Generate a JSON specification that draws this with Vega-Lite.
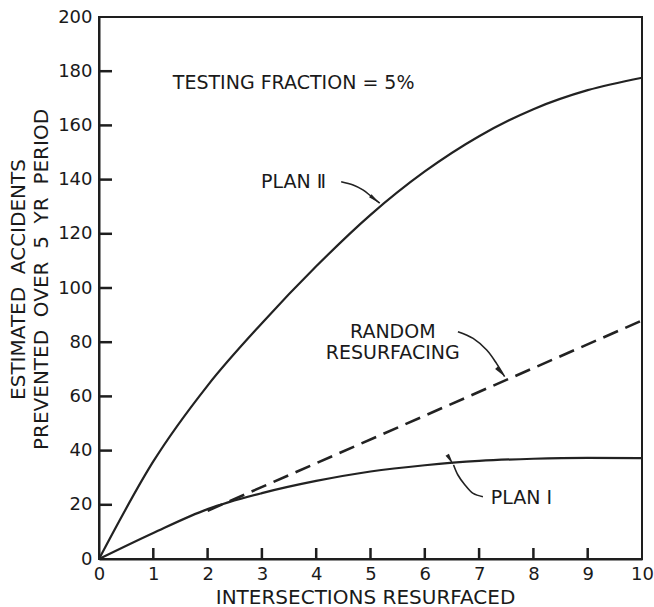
{
  "$schema": "https://vega.github.io/schema/vega-lite/v6.json",
  "width": 543,
  "height": 542,
  "autosize": "none",
  "padding": {"left": 99, "top": 17, "right": 12, "bottom": 48},
  "background": "white",
  "config": {
    "view": {"stroke": "#1e1e1e", "strokeWidth": 2},
    "font": "DejaVu Sans",
    "axis": {
      "grid": false,
      "domainColor": "#1e1e1e",
      "domainWidth": 2,
      "ticks": false,
      "labelFont": "DejaVu Sans",
      "labelFontSize": 18,
      "labelColor": "#1a1a1a",
      "labelFlush": false,
      "labelOverlap": false,
      "titleFont": "DejaVu Sans",
      "titleFontSize": 20,
      "titleFontWeight": "normal",
      "titleColor": "#1a1a1a"
    }
  },
  "datasets": {
    "curves": [
      {"series": "PLAN II", "x": 0, "y": 0},
      {"series": "PLAN II", "x": 1, "y": 36},
      {"series": "PLAN II", "x": 2, "y": 64},
      {"series": "PLAN II", "x": 3, "y": 87},
      {"series": "PLAN II", "x": 4, "y": 108},
      {"series": "PLAN II", "x": 5, "y": 127},
      {"series": "PLAN II", "x": 6, "y": 143},
      {"series": "PLAN II", "x": 7, "y": 156},
      {"series": "PLAN II", "x": 8, "y": 166},
      {"series": "PLAN II", "x": 9, "y": 173},
      {"series": "PLAN II", "x": 10, "y": 177.6},
      {"series": "PLAN I", "x": 0, "y": 0},
      {"series": "PLAN I", "x": 1, "y": 9.6},
      {"series": "PLAN I", "x": 2, "y": 18.4},
      {"series": "PLAN I", "x": 3, "y": 24.3},
      {"series": "PLAN I", "x": 4, "y": 28.8},
      {"series": "PLAN I", "x": 5, "y": 32.3},
      {"series": "PLAN I", "x": 6, "y": 34.6},
      {"series": "PLAN I", "x": 7, "y": 36.2},
      {"series": "PLAN I", "x": 8, "y": 37},
      {"series": "PLAN I", "x": 9, "y": 37.3},
      {"series": "PLAN I", "x": 10, "y": 37.2},
      {"series": "RANDOM", "x": 2, "y": 17.8},
      {"series": "RANDOM", "x": 10, "y": 88}
    ],
    "arrows": [
      {"arrow": "PLAN II", "i": 0, "x": 4.46, "y": 139.2},
      {"arrow": "PLAN II", "i": 1, "x": 4.68, "y": 138.0},
      {"arrow": "PLAN II", "i": 2, "x": 4.86, "y": 136.2},
      {"arrow": "PLAN II", "i": 3, "x": 5.02, "y": 133.7},
      {"arrow": "PLAN II", "i": 4, "x": 5.17, "y": 131.3},
      {"arrow": "RANDOM", "i": 0, "x": 6.61, "y": 83.9},
      {"arrow": "RANDOM", "i": 1, "x": 6.89, "y": 81.4},
      {"arrow": "RANDOM", "i": 2, "x": 7.14, "y": 77.1},
      {"arrow": "RANDOM", "i": 3, "x": 7.32, "y": 72.2},
      {"arrow": "RANDOM", "i": 4, "x": 7.47, "y": 67.3},
      {"arrow": "PLAN I", "i": 0, "x": 7.07, "y": 23.0},
      {"arrow": "PLAN I", "i": 1, "x": 6.89, "y": 24.2},
      {"arrow": "PLAN I", "i": 2, "x": 6.74, "y": 27.3},
      {"arrow": "PLAN I", "i": 3, "x": 6.61, "y": 31.0},
      {"arrow": "PLAN I", "i": 4, "x": 6.53, "y": 34.7}
    ],
    "labels": [
      {"label": "TESTING FRACTION = 5%", "x": 3.585, "y": 175.6},
      {"label": "PLAN Ⅱ", "x": 3.585, "y": 139.2},
      {"label": "RANDOM\nRESURFACING", "x": 5.41, "y": 83.7},
      {"label": "PLAN Ⅰ", "x": 7.78, "y": 22.5}
    ],
    "xticks": [{"v": 1}, {"v": 2}, {"v": 3}, {"v": 4}, {"v": 5}, {"v": 6}, {"v": 7}, {"v": 8}, {"v": 9}],
    "yticks": [{"v": 20}, {"v": 40}, {"v": 60}, {"v": 80}, {"v": 100}, {"v": 120}, {"v": 140}, {"v": 160}, {"v": 180}]
  },
  "layer": [
    {
      "data": {"name": "curves"},
      "transform": [{"filter": "datum.series !== 'RANDOM'"}],
      "mark": {"type": "line", "interpolate": "monotone", "color": "#222", "strokeWidth": 2.2},
      "encoding": {
        "x": {
          "field": "x", "type": "quantitative",
          "scale": {"domain": [0, 10], "nice": false, "zero": false},
          "axis": {
            "values": [0, 1, 2, 3, 4, 5, 6, 7, 8, 9, 10],
            "labelPadding": 6,
            "title": "INTERSECTIONS RESURFACED",
            "titleX": 266,
            "titleY": 44,
            "titleBaseline": "alphabetic",
            "titleAlign": "center"
          }
        },
        "y": {
          "field": "y", "type": "quantitative",
          "scale": {"domain": [0, 200], "nice": false},
          "axis": {
            "values": [0, 20, 40, 60, 80, 100, 120, 140, 160, 180, 200],
            "labelPadding": 7,
            "title": ["ESTIMATED \u00a0ACCIDENTS", "PREVENTED \u00a0OVER \u00a05 \u00a0YR \u00a0PERIOD"],
            "titleAngle": -90,
            "titleX": -75,
            "titleY": 262,
            "titleBaseline": "alphabetic",
            "titleAlign": "center",
            "titleLineHeight": 23
          }
        },
        "detail": {"field": "series"}
      }
    },
    {
      "data": {"name": "xticks"},
      "mark": {"type": "tick", "orient": "vertical", "color": "#1e1e1e", "opacity": 1, "thickness": 2.5, "size": 11},
      "encoding": {
        "x": {"field": "v", "type": "quantitative"},
        "y": {"datum": 2.03, "type": "quantitative"}
      }
    },
    {
      "data": {"name": "yticks"},
      "mark": {"type": "tick", "orient": "horizontal", "color": "#1e1e1e", "opacity": 1, "thickness": 2.5, "size": 13},
      "encoding": {
        "y": {"field": "v", "type": "quantitative"},
        "x": {"datum": 0.12, "type": "quantitative"}
      }
    },
    {
      "data": {"name": "curves"},
      "transform": [{"filter": "datum.series === 'RANDOM'"}],
      "mark": {"type": "line", "color": "#222", "strokeWidth": 2.6, "strokeDash": [16, 8]},
      "encoding": {
        "x": {"field": "x", "type": "quantitative"},
        "y": {"field": "y", "type": "quantitative"}
      }
    },
    {
      "data": {"name": "arrows"},
      "mark": {"type": "line", "interpolate": "catmull-rom", "color": "#222", "strokeWidth": 1.6},
      "encoding": {
        "x": {"field": "x", "type": "quantitative"},
        "y": {"field": "y", "type": "quantitative"},
        "detail": {"field": "arrow"},
        "order": {"field": "i"}
      }
    },
    {
      "data": {"name": "arrows"},
      "transform": [{"filter": "datum.i === 4"}],
      "mark": {"type": "point", "shape": "M0,0L0.4,2.4L-0.4,2.4Z", "filled": true, "color": "#222", "opacity": 1, "size": 100},
      "encoding": {
        "x": {"field": "x", "type": "quantitative"},
        "y": {"field": "y", "type": "quantitative"},
        "angle": {
          "field": "arrow", "type": "nominal",
          "scale": {"domain": ["PLAN II", "RANDOM", "PLAN I"], "range": [128, 148, 337]},
          "legend": null
        }
      }
    },
    {
      "data": {"name": "labels"},
      "mark": {"type": "text", "font": "DejaVu Sans", "fontSize": 19, "color": "#1a1a1a", "align": "center", "baseline": "middle", "lineBreak": "\n", "lineHeight": 21},
      "encoding": {
        "x": {"field": "x", "type": "quantitative"},
        "y": {"field": "y", "type": "quantitative"},
        "text": {"field": "label"}
      }
    }
  ]
}
